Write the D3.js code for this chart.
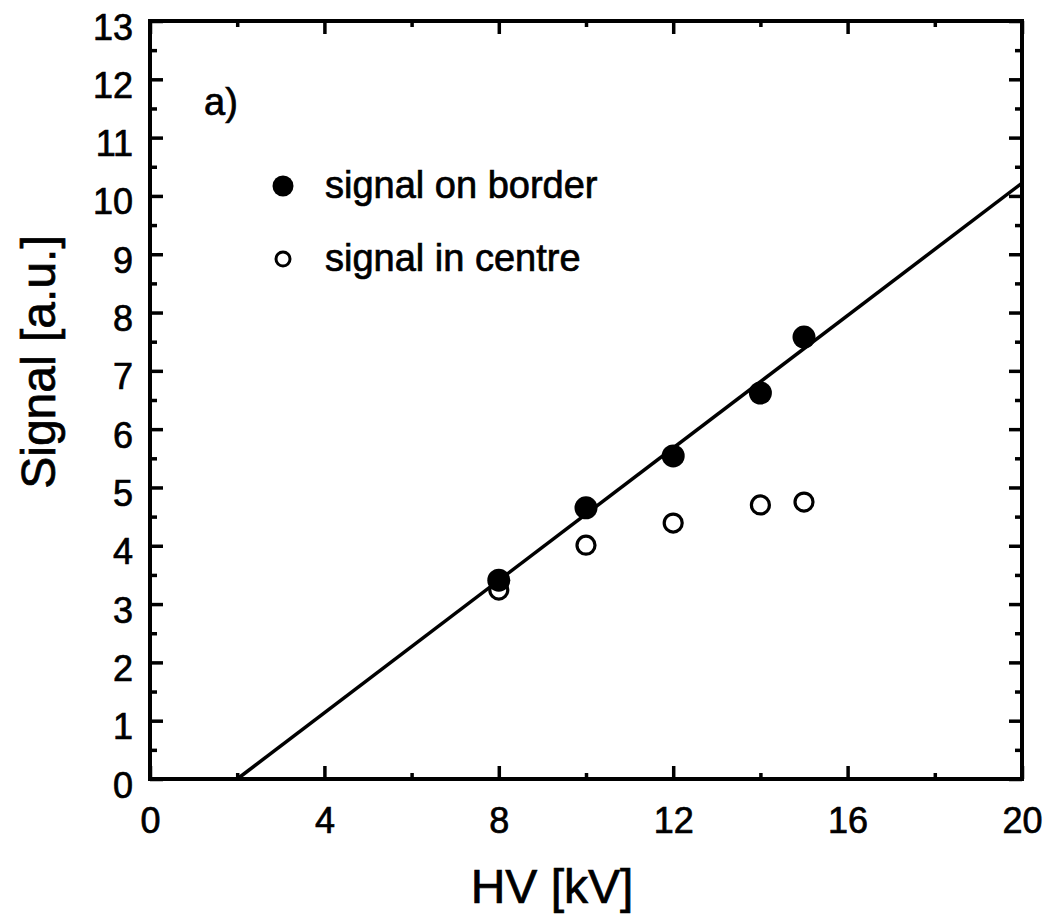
<!DOCTYPE html>
<html>
<head>
<meta charset="utf-8">
<script src="https://cdn.jsdelivr.net/npm/d3@7"></script>
<style>
  html, body { margin: 0; padding: 0; background: #fff; }
  svg { display: block; font-family: "Liberation Sans", Arial, Helvetica, sans-serif; }
  svg text { stroke: #000; stroke-width: 0.7px; }
</style>
</head>
<body>
<svg id="chart" width="1048" height="917"></svg>
<script>
// HV settings (kV)
const hv = [8, 10, 12, 14, 15];
// measured signal at the border of the pad
const signalBorder = [3.41, 4.65, 5.54, 6.62, 7.58];
// measured signal in the centre of the pad
const signalCentre = [3.24, 4.01, 4.39, 4.70, 4.75];
// linear fit through the border data
const fitX = [2, 20];
const fitY = [0, 10.22];
// axis ticks
const xMajor = [0, 4, 8, 12, 16, 20];
const xMinor = [2, 6, 10, 14, 18];
const yMajor = [0, 1, 2, 3, 4, 5, 6, 7, 8, 9, 10, 11, 12, 13];
const yMinor = [0.5, 1.5, 2.5, 3.5, 4.5, 5.5, 6.5, 7.5, 8.5, 9.5, 10.5, 11.5, 12.5];
const legendLabels = ["signal on border", "signal in centre"];

const svg = d3.select("#chart");
const L = 150, R = 1022, T = 21, B = 779;

const x = d3.scaleLinear().domain([0, 20]).range([L, R]);
const y = d3.scaleLinear().domain([0, 13]).range([B, T]);

const ink = "#000";

function styleAxis(g) {
  g.select(".domain").remove();
  g.selectAll(".tick line").attr("stroke", ink).attr("stroke-width", 3.5);
  g.selectAll(".tick text").attr("fill", ink);
}

// bottom axis: labelled major ticks and minor ticks, pointing inward
svg.append("g").attr("transform", `translate(0,${B})`)
  .call(d3.axisBottom(x).tickValues(xMajor).tickSize(-13).tickPadding(20).tickFormat(d3.format("d")))
  .call(styleAxis)
  .call(g => g.selectAll(".tick text").attr("font-size", 36).attr("dy", "0.71em").attr("y", 28));
svg.append("g").attr("transform", `translate(0,${B})`)
  .call(d3.axisBottom(x).tickValues(xMinor).tickSize(-6).tickFormat(""))
  .call(styleAxis);
// top axis
svg.append("g").attr("transform", `translate(0,${T})`)
  .call(d3.axisTop(x).tickValues(xMajor).tickSize(-13).tickFormat(""))
  .call(styleAxis);
svg.append("g").attr("transform", `translate(0,${T})`)
  .call(d3.axisTop(x).tickValues(xMinor).tickSize(-6).tickFormat(""))
  .call(styleAxis);

// left axis
svg.append("g").attr("transform", `translate(${L},0)`)
  .call(d3.axisLeft(y).tickValues(yMajor).tickSize(-13).tickFormat(d3.format("d")))
  .call(styleAxis)
  .call(g => g.selectAll(".tick text").attr("font-size", 36).attr("x", -17).attr("dy", "0.5em"));
svg.append("g").attr("transform", `translate(${L},0)`)
  .call(d3.axisLeft(y).tickValues(yMinor).tickSize(-7).tickFormat(""))
  .call(styleAxis);
// right axis
svg.append("g").attr("transform", `translate(${R},0)`)
  .call(d3.axisRight(y).tickValues(yMajor).tickSize(-13).tickFormat(""))
  .call(styleAxis);
svg.append("g").attr("transform", `translate(${R},0)`)
  .call(d3.axisRight(y).tickValues(yMinor).tickSize(-7).tickFormat(""))
  .call(styleAxis);

// plot frame
svg.append("rect")
  .attr("x", L).attr("y", T).attr("width", R - L).attr("height", B - T)
  .attr("fill", "none").attr("stroke", ink).attr("stroke-width", 4);

// fit line
const fit = fitX.map((v, i) => [v, fitY[i]]);
svg.append("path")
  .datum(fit)
  .attr("d", d3.line().x(d => x(d[0])).y(d => y(d[1])))
  .attr("fill", "none").attr("stroke", ink).attr("stroke-width", 3.5);

// centre signal (open circles)
svg.append("g").selectAll("circle")
  .data(hv.map((v, i) => [v, signalCentre[i]]))
  .join("circle")
  .attr("cx", d => x(d[0])).attr("cy", d => y(d[1])).attr("r", 9)
  .attr("fill", "#fff").attr("stroke", ink).attr("stroke-width", 3.2);

// border signal (filled circles)
svg.append("g").selectAll("circle")
  .data(hv.map((v, i) => [v, signalBorder[i]]))
  .join("circle")
  .attr("cx", d => x(d[0])).attr("cy", d => y(d[1])).attr("r", 11.5)
  .attr("fill", ink);

// panel label
svg.append("text").attr("x", 204).attr("y", 115)
  .attr("font-size", 38).attr("fill", ink).text("a)");

// legend
const lg = svg.append("g");
lg.append("circle").attr("cx", 283).attr("cy", 186).attr("r", 10.5).attr("fill", ink);
lg.append("text").attr("x", 325).attr("y", 198).attr("font-size", 38).attr("fill", ink).text(legendLabels[0]);
lg.append("circle").attr("cx", 283).attr("cy", 259).attr("r", 7).attr("fill", "#fff")
  .attr("stroke", ink).attr("stroke-width", 3);
lg.append("text").attr("x", 325).attr("y", 271).attr("font-size", 38).attr("fill", ink).text(legendLabels[1]);

// axis titles
svg.append("text").attr("x", 552).attr("y", 903).attr("text-anchor", "middle")
  .attr("font-size", 48).attr("fill", ink).text("HV [kV]");
svg.append("text")
  .attr("transform", "translate(55,362) rotate(-90)")
  .attr("text-anchor", "middle").attr("font-size", 48).attr("fill", ink).text("Signal [a.u.]");
</script>
</body>
</html>
